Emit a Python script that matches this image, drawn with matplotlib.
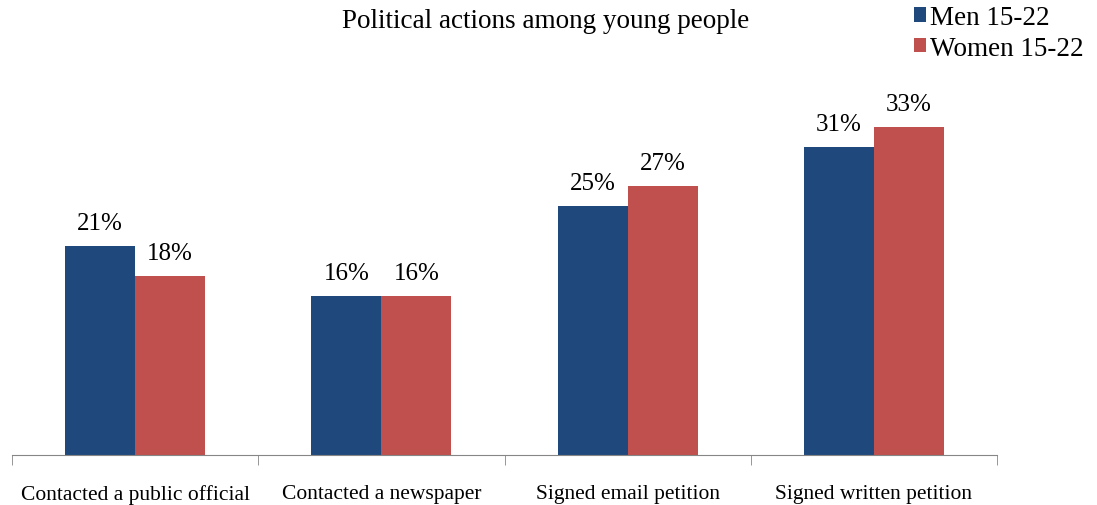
import numpy as np
import matplotlib.pyplot as plt

categories = ['Contacted a public official', 'Contacted a newspaper',
              'Signed email petition', 'Signed written petition']
men = [21, 16, 25, 31]
women = [18, 16, 27, 33]

plt.rcParams['font.family'] = ['Liberation Serif', 'DejaVu Serif']

fig = plt.figure(figsize=(10.97, 5.06), dpi=100)
ax = fig.add_axes([12 / 1097, 1 - 456 / 506, 985 / 1097, 398 / 506])

x = np.arange(len(categories))
w = 70 / 246
b1 = ax.bar(x - w / 2, men, w, color='#1F497D', label='Men 15-22')
b2 = ax.bar(x + w / 2, women, w, color='#C0504D', label='Women 15-22')

for bars, vals in ((b1, men), (b2, women)):
    for r, v in zip(bars, vals):
        ax.text(r.get_x() + r.get_width() / 2, v + 1.2, f'{v}%',
                ha='center', va='bottom', fontsize=18)

ax.set_xlim(-0.5, len(categories) - 0.5)
ax.set_ylim(0, 40)
ax.set_yticks([])
for s in ('top', 'right', 'left'):
    ax.spines[s].set_visible(False)
ax.spines['bottom'].set_color('#868686')

ax.set_xticks(x)
ax.set_xticklabels(categories, fontsize=15.5)
ax.tick_params(axis='x', which='major', length=0, pad=21)
ax.set_xticks(np.arange(-0.5, len(categories)), minor=True)
ax.tick_params(axis='x', which='minor', length=7, color='#868686')

fig.text(0.497, 0.958, 'Political actions among young people',
         ha='center', va='center', fontsize=19.5)
fig.legend(handles=[b1, b2], loc='upper right', bbox_to_anchor=(1.003, 1.02),
           frameon=False, fontsize=19.5, handlelength=0.45, handleheight=0.45,
           handletextpad=0.15, labelspacing=0.2, borderaxespad=0.2)

fig.savefig('out.png', dpi=100)
